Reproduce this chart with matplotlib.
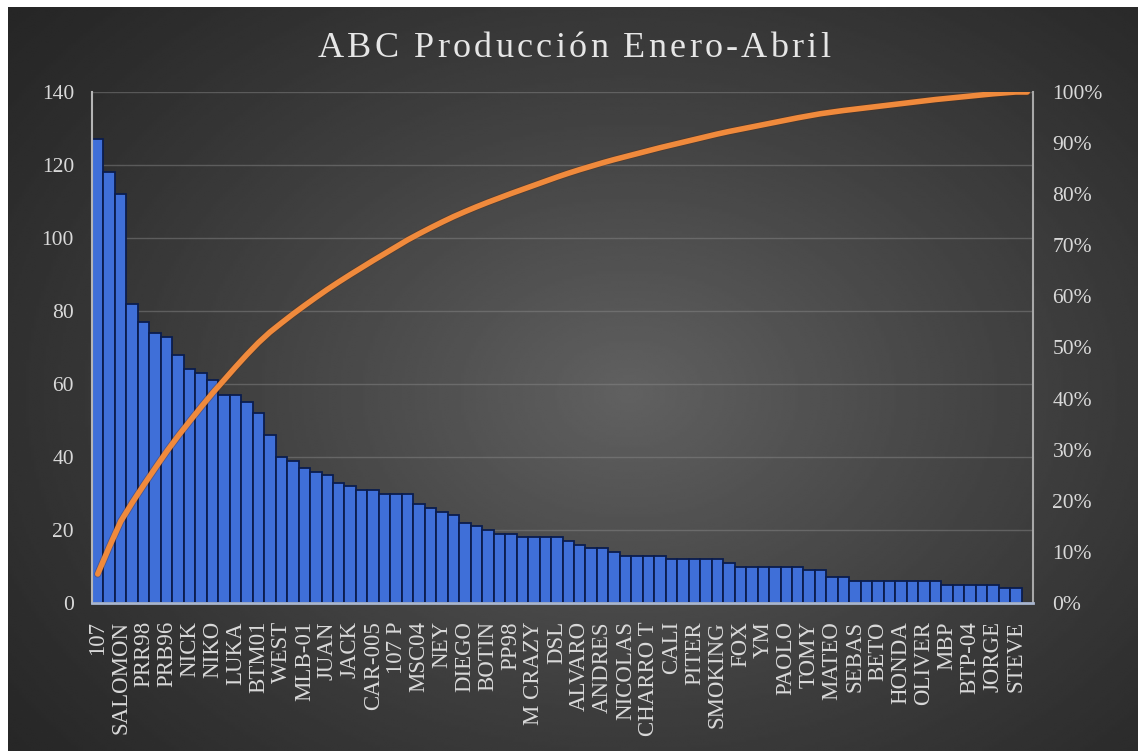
import numpy as np
import matplotlib
matplotlib.use("Agg")
import matplotlib.pyplot as plt
from matplotlib.ticker import FixedLocator, FuncFormatter

# ---------------- data ----------------
title = "ABC Producción Enero-Abril"
labels_shown = ["107", "SALOMON", "PRR98", "PRB96", "NICK", "NIKO", "LUKA", "BTM01",
                "WEST", "MLB-01", "JUAN", "JACK", "CAR-005", "107 P", "MSC04", "NEY",
                "DIEGO", "BOTIN", "PP98", "M CRAZY", "DSL", "ALVARO", "ANDRES", "NICOLAS",
                "CHARRO T", "CALI", "PITER", "SMOKING", "FOX", "YM", "PAOLO", "TOMY",
                "MATEO", "SEBAS", "BETO", "HONDA", "OLIVER", "MBP", "BTP-04", "JORGE", "STEVE"]
values = [127, 118, 112, 82, 77, 74, 73, 68, 64, 63, 61, 57, 57, 55, 52, 46,
          40, 39, 37, 36, 35, 33, 32, 31, 31, 30, 30, 30, 27, 26, 25, 24, 22,
          21, 20, 19, 19, 18, 18, 18, 18, 17, 16, 15, 15, 14, 13, 13, 13, 13,
          12, 12, 12, 12, 12,
          11, 10, 10, 10, 10, 10, 10, 9, 9, 7, 7,
          6, 6, 6, 6, 6, 6, 6, 6,
          5, 5, 5, 5, 5, 4, 4, 0]
y_ticks = [0, 20, 40, 60, 80, 100, 120, 140]
pct_ticks = [0, 10, 20, 30, 40, 50, 60, 70, 80, 90, 100]

W, H = 1138, 751
SERIF = "Liberation Serif"
TXT = "#d9d9d9"

fig = plt.figure(figsize=(W / 100, H / 100), dpi=100)
fig.patch.set_facecolor("white")

# background panel with radial gradient
bg = fig.add_axes([8 / W, 0, 1 - 8 / W, 1 - 7 / H])
gh, gw = 300, 460
yy, xx = np.mgrid[0:1:gh * 1j, 0:1:gw * 1j]
r = np.sqrt(((xx - 0.55) / 0.72) ** 2 + ((yy - 0.52) / 0.80) ** 2)
shade = 0.15 + 0.23 * np.clip(1 - r, 0, 1) ** 1.2
bg.imshow(shade, cmap="gray", vmin=0, vmax=1, extent=[0, 1, 0, 1], aspect="auto",
          interpolation="bilinear")
bg.set_axis_off()
bg.set_zorder(0)

# main axes
ax = fig.add_axes([92 / W, 1 - 603 / H, (1033 - 92) / W, (603 - 92) / H])
ax.set_zorder(1)
ax.patch.set_alpha(0)
x = np.arange(len(values))
ax.bar(x, values, width=1.0, color="#3F6FD8", edgecolor="#0B1D4D", linewidth=1.3, zorder=2)
ax.set_xlim(-0.5, len(values) - 0.5)
ax.set_ylim(0, 140)
ax.set_axisbelow(True)
ax.yaxis.set_major_locator(FixedLocator(y_ticks))
ax.grid(axis="y", color="#8c8c8c", alpha=0.45, lw=1.0)
ax.grid(axis="x", visible=False)
tick_pos = list(range(0, len(labels_shown) * 2, 2))
ax.set_xticks(tick_pos)
ax.set_xticklabels(labels_shown, rotation=90, fontsize=16.5, family=SERIF, color=TXT,
                   ha="center", va="top")
ax.tick_params(axis="x", length=0, pad=13)
ax.tick_params(axis="y", length=0, pad=13, labelsize=15.5, labelcolor=TXT)
for lab in ax.get_yticklabels():
    lab.set_family(SERIF)
ax.spines["top"].set_visible(False)
ax.spines["left"].set_color("#b5b5b5")
ax.spines["left"].set_linewidth(1.5)
ax.spines["bottom"].set_color("#a9b6cf")
ax.spines["bottom"].set_linewidth(2.0)
ax.spines["right"].set_color("#a8a8a8")
ax.spines["right"].set_linewidth(1.5)

# cumulative percentage line
ax2 = ax.twinx()
ax2.set_zorder(2)
cum = np.cumsum(values) / np.sum(values) * 100
ax2.plot(x, cum, color="#5a2a10", lw=5.2, alpha=0.35, solid_capstyle="round", zorder=1)
ax2.plot(x, cum, color="#F08A3C", lw=4.0, solid_capstyle="round", zorder=2)
ax2.set_ylim(0, 100)
ax2.yaxis.set_major_locator(FixedLocator(pct_ticks))
ax2.yaxis.set_major_formatter(FuncFormatter(lambda v, p: f"{int(v)}%"))
ax2.tick_params(axis="y", length=0, pad=14, labelsize=15.5, labelcolor=TXT)
for lab in ax2.get_yticklabels():
    lab.set_family(SERIF)
for s in ax2.spines.values():
    s.set_visible(False)

# title with letter spacing
renderer = fig.canvas.get_renderer()
tsize = 26

def text_w(s):
    t = fig.text(0, 0, s, fontsize=tsize, family=SERIF)
    w = t.get_window_extent(renderer).width
    t.remove()
    return w

full_w = text_w(title)
target_w = 512
spacing = (target_w - full_w) / (len(title) - 1)
x0 = 574 - target_w / 2
base_y = 1 - 57 / H
for i, ch in enumerate(title):
    if ch == " ":
        continue
    left = text_w(title[:i + 1]) - text_w(ch) + i * spacing
    fig.text((x0 + left) / W, base_y, ch, fontsize=tsize, family=SERIF, color="#e6e6e6",
             ha="left", va="baseline")

fig.savefig("out.png", dpi=100, facecolor=fig.get_facecolor())
